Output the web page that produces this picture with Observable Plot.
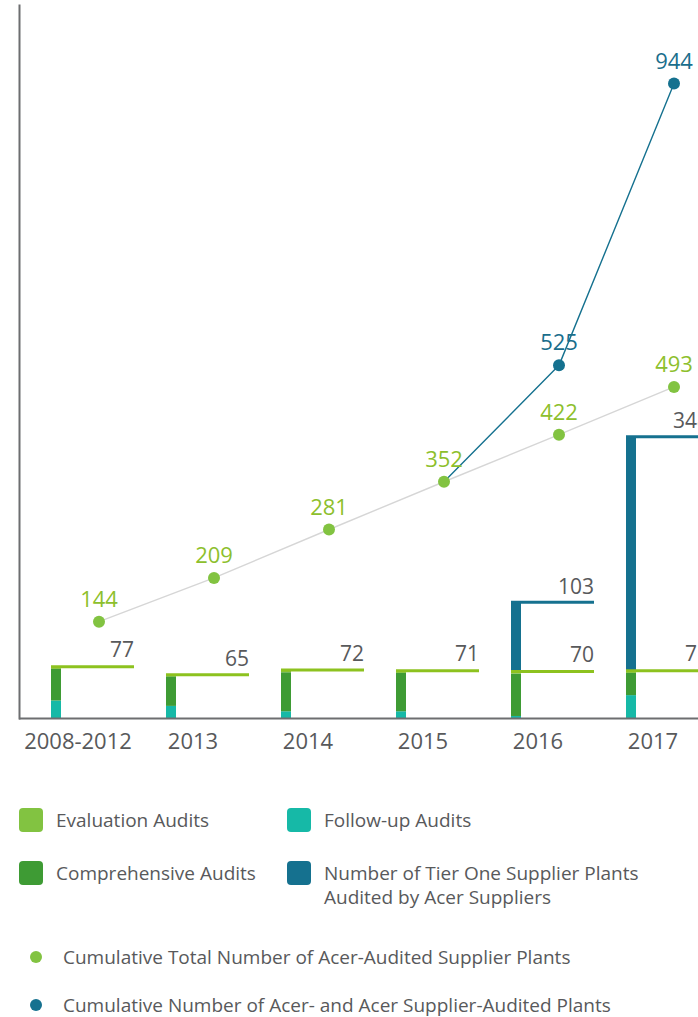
<!DOCTYPE html>
<html><head><meta charset="utf-8">
<script src="https://cdn.jsdelivr.net/npm/d3@7"></script>
<script src="https://cdn.jsdelivr.net/npm/@observablehq/plot@0.6"></script>
<style>
html,body{margin:0;padding:0;background:#fff;overflow:hidden;}
body{font-family:"Open Sans",sans-serif;color:#58595b;width:698px;height:1017px;position:relative;}
#chart{position:absolute;left:0;top:0;}
.sq{position:absolute;width:24px;height:24px;border-radius:4px;}
.lt{position:absolute;font-size:19px;line-height:24px;color:#58595b;white-space:nowrap;}
.dt{position:absolute;width:12px;height:12px;border-radius:50%;}
</style></head><body>
<div id="chart"></div>
<div id="legend"></div>
<script>
const periods = ["2008-2012", "2013", "2014", "2015", "2016", "2017"];
const followUpAudits = [26, 18, 10, 10, 3, 34];
const comprehensiveAudits = [47, 44, 58, 57, 63, 33];
const evaluationAudits = [4, 3, 4, 4, 4, 4];
const totalAudits = [77, 65, 72, 71, 70, 71];
const tierOnePlants = [null, null, null, null, 103, 348];
const cumulativeAcer = [144, 209, 281, 352, 422, 493];
const cumulativeAll = [null, null, null, 352, 525, 944];

const C = {
  follow: "#16b9a7", comp: "#3e9b34", evalc: "#82c341", tier: "#15718f",
  evalLine: "#8dc21f", gray: "#d6d6d6", greenText: "#8dbf2d", blueText: "#1a6e8c", text: "#58595b"
};

const followRows = periods.map((p, i) => ({period: p, y1: 0, y2: followUpAudits[i]}));
const compRows = periods.map((p, i) => ({period: p, y1: followUpAudits[i], y2: followUpAudits[i] + comprehensiveAudits[i]}));
const evalRows = periods.map((p, i) => ({period: p, y1: followUpAudits[i] + comprehensiveAudits[i], y2: followUpAudits[i] + comprehensiveAudits[i] + evaluationAudits[i]}));
const totalRows = periods.map((p, i) => ({period: p, value: totalAudits[i]}));
const tierRows = periods.map((p, i) => ({period: p, y1: totalAudits[i], y2: totalAudits[i] + tierOnePlants[i], value: tierOnePlants[i]})).filter(d => d.value != null);
const acerRows = periods.map((p, i) => ({period: p, value: cumulativeAcer[i]}));
const allRows = periods.map((p, i) => ({period: p, value: cumulativeAll[i]})).filter(d => d.value != null);
const allDotRows = allRows.filter(d => !acerRows.some(a => a.period === d.period && a.value === d.value));

const barInset = 73;
const chart = Plot.plot({
  width: 698, height: 770,
  marginTop: 5, marginBottom: 52, marginLeft: 19, marginRight: 0,
  style: {fontFamily: "'Open Sans', sans-serif", color: C.text, background: "transparent", overflow: "visible"},
  x: {type: "band", domain: periods, range: [50.5, 711.5], paddingInner: 0.2759, paddingOuter: 0, align: 0, label: null},
  y: {domain: [0, 1060], axis: null},
  marks: [
    Plot.barY(followRows, {x: "period", y1: "y1", y2: "y2", fill: C.follow, insetRight: barInset}),
    Plot.barY(compRows, {x: "period", y1: "y1", y2: "y2", fill: C.comp, insetRight: barInset}),
    Plot.barY(evalRows, {x: "period", y1: "y1", y2: "y2", fill: C.evalc, insetRight: barInset}),
    Plot.barY(tierRows, {x: "period", y1: "y1", y2: "y2", fill: C.tier, insetRight: barInset}),
    Plot.tickY(totalRows, {x: "period", y: "value", stroke: C.evalLine, strokeWidth: 3}),
    Plot.tickY(tierRows, {x: "period", y: "y2", stroke: C.tier, strokeWidth: 3}),
    Plot.text(totalRows, {x: "period", y: "value", text: d => String(d.value), textAnchor: "end", dx: 41, dy: -16, fontSize: 21, fill: C.text}),
    Plot.text(tierRows, {x: "period", y: "y2", text: d => String(d.value), textAnchor: "end", dx: 41, dy: -15, fontSize: 21, fill: C.text}),
    Plot.ruleY([0], {stroke: "#6d6e70", strokeWidth: 2}),
    Plot.frame({anchor: "left", stroke: "#6d6e70", strokeWidth: 2}),
    Plot.line(acerRows, {x: "period", y: "value", stroke: C.gray, strokeWidth: 1.4, dx: 6}),
    Plot.line(allRows, {x: "period", y: "value", stroke: C.tier, strokeWidth: 1.4, dx: 6}),
    Plot.dot(acerRows, {x: "period", y: "value", r: 6, fill: C.evalc, dx: 6}),
    Plot.dot(allDotRows, {x: "period", y: "value", r: 6, fill: C.tier, dx: 6}),
    Plot.text(acerRows, {x: "period", y: "value", text: d => String(d.value), dx: 6, dy: -22, fontSize: 22, fill: C.greenText}),
    Plot.text(allDotRows, {x: "period", y: "value", text: d => String(d.value), dx: 6, dy: -22, fontSize: 22, fill: C.blueText}),
    Plot.axisX({tickSize: 0, tickPadding: 15, dx: -15, fontSize: 22, fill: C.text, label: null})
  ]
});
document.getElementById("chart").appendChild(chart);

const legendSquares = [
  {label: "Evaluation Audits", color: C.evalc, left: 19, top: 808},
  {label: "Follow-up Audits", color: C.follow, left: 287, top: 808},
  {label: "Comprehensive Audits", color: C.comp, left: 19, top: 861},
  {label: "Number of Tier One Supplier Plants<br>Audited by Acer Suppliers", color: C.tier, left: 287, top: 861}
];
const legendDots = [
  {label: "Cumulative Total Number of Acer-Audited Supplier Plants", color: C.evalc, top: 957},
  {label: "Cumulative Number of Acer- and Acer Supplier-Audited Plants", color: C.tier, top: 1005}
];
const lg = document.getElementById("legend");
for (const s of legendSquares) {
  const sq = document.createElement("div"); sq.className = "sq";
  sq.style.left = s.left + "px"; sq.style.top = s.top + "px"; sq.style.background = s.color;
  lg.appendChild(sq);
  const t = document.createElement("div"); t.className = "lt";
  t.style.left = (s.left + 37) + "px"; t.style.top = s.top + "px"; t.innerHTML = s.label;
  lg.appendChild(t);
}
for (const d of legendDots) {
  const dt = document.createElement("div"); dt.className = "dt";
  dt.style.left = "30px"; dt.style.top = (d.top - 6) + "px"; dt.style.background = d.color;
  lg.appendChild(dt);
  const t = document.createElement("div"); t.className = "lt";
  t.style.left = "63px"; t.style.top = (d.top - 12) + "px"; t.textContent = d.label;
  lg.appendChild(t);
}
</script>
</body></html>
